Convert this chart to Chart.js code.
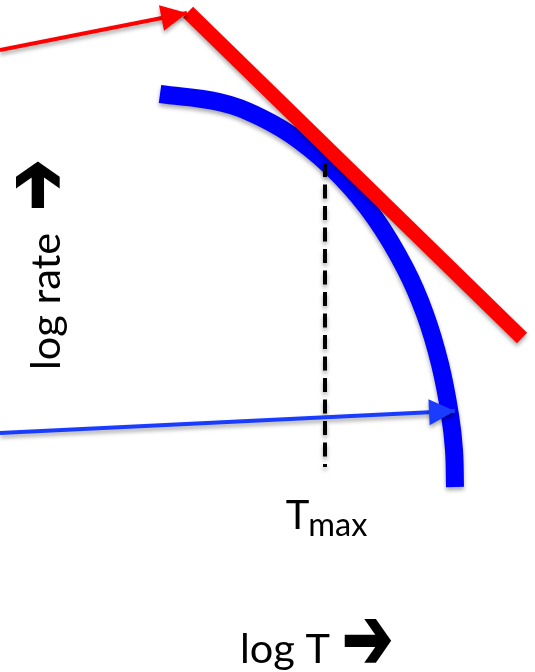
<!DOCTYPE html>
<html>
<head>
<meta charset="utf-8">
<script src="https://cdn.jsdelivr.net/npm/chart.js@4/dist/chart.umd.min.js"></script>
<style>
  html, body { margin: 0; padding: 0; background: #fff; }
  #wrap { width: 535px; height: 672px; }
</style>
</head>
<body>
<div id="wrap"><canvas id="c" width="535" height="672"></canvas></div>
<script>
// Rate curve: log rate against log T (arbitrary units)
const curveLogT    = [1.60, 2.19, 2.60, 3.00, 3.40, 3.75, 4.05, 4.25, 4.40, 4.50, 4.54, 4.55];
const curveLogRate = [5.78, 5.70, 5.55, 5.31, 4.96, 4.54, 4.04, 3.58, 3.08, 2.57, 2.22, 1.85];

// Straight line touching the curve
const tangentLogT    = [1.88, 5.22];
const tangentLogRate = [6.60, 3.34];

// Vertical marker at Tmax
const tmaxLogT    = [3.25, 3.25];
const tmaxLogRate = [5.09, 2.05];

// Pointer arrows (last point is the tip)
const redArrowLogT     = [0.00, 1.87];
const redArrowLogRate  = [6.22, 6.59];
const blueArrowLogT    = [0.00, 4.55];
const blueArrowLogRate = [2.39, 2.61];

// Texts
const xTitle = 'log T';
const yTitle = 'log rate';
const arrowGlyph = '\u2794';
const markerMain = 'T';
const markerSub = 'max';

const pts = (xs, ys) => xs.map((x, i) => ({ x, y: ys[i] }));

// Soft drop shadow under every mark, and arrowheads on flagged datasets
const shadowAndHeads = {
  id: 'shadowAndHeads',
  beforeDatasetDraw(chart) {
    const ctx = chart.ctx;
    ctx.save();
    ctx.shadowColor = 'rgba(0,0,0,0.35)';
    ctx.shadowBlur = 4;
    ctx.shadowOffsetX = 0;
    ctx.shadowOffsetY = 3;
  },
  afterDatasetDraw(chart, args) {
    const ctx = chart.ctx;
    const ds = chart.data.datasets[args.index];
    if (ds.arrowHead) {
      const el = args.meta.data;
      const a = el[el.length - 2], b = el[el.length - 1];
      const ang = Math.atan2(b.y - a.y, b.x - a.x);
      const len = ds.arrowHead.length, hw = ds.arrowHead.halfWidth;
      ctx.translate(b.x, b.y);
      ctx.rotate(ang);
      ctx.beginPath();
      ctx.moveTo(0, 0);
      ctx.lineTo(-len, -hw);
      ctx.lineTo(-len, hw);
      ctx.closePath();
      ctx.fillStyle = ds.borderColor;
      ctx.fill();
    }
    ctx.restore();
  }
};

// heavy arrow glyph, left edge at x, centred on yMid
function drawArrowGlyph(ctx, x, yMid) {
  ctx.save();
  ctx.translate(x, yMid);
  ctx.scale(1, 1.43);
  ctx.font = 'bold 61px "DejaVu Sans"';
  ctx.textBaseline = 'middle';
  ctx.textAlign = 'left';
  ctx.fillStyle = '#000';
  ctx.strokeStyle = '#000';
  ctx.lineWidth = 1.5;
  ctx.lineJoin = 'miter';
  ctx.fillText(arrowGlyph, 0, 0);
  ctx.strokeText(arrowGlyph, 0, 0);
  ctx.restore();
}

// Axis captions and the Tmax label
const captions = {
  id: 'captions',
  afterDraw(chart) {
    const ctx = chart.ctx;
    const xs = chart.scales.x;
    const markerX = xs.getPixelForValue(tmaxLogT[0]);
    ctx.save();
    ctx.fillStyle = '#000';
    ctx.textBaseline = 'alphabetic';
    ctx.textAlign = 'left';

    // vertical caption, reading upward
    ctx.save();
    ctx.translate(60, 370);
    ctx.rotate(-Math.PI / 2);
    ctx.font = '41.5px Lato';
    ctx.fillText(yTitle, 0, 0);
    const yw = ctx.measureText(yTitle).width;
    drawArrowGlyph(ctx, yw + 22, -18);
    ctx.restore();

    // horizontal caption
    ctx.font = '41.5px Lato';
    ctx.fillText(xTitle, 240, 663);
    const xw = ctx.measureText(xTitle).width;
    drawArrowGlyph(ctx, 240 + xw + 12, 645);

    // Tmax label
    ctx.textBaseline = 'alphabetic';
    ctx.font = '40px Lato';
    const tw = ctx.measureText(markerMain).width;
    ctx.font = '32.5px Lato';
    const sw = ctx.measureText(markerSub).width;
    const left = markerX - (tw + sw) / 2 + 2;
    ctx.font = '40px Lato';
    ctx.fillText(markerMain, left, 529);
    ctx.font = '32.5px Lato';
    ctx.fillText(markerSub, left + tw - 1, 536);
    ctx.restore();
  }
};

new Chart(document.getElementById('c'), {
  type: 'scatter',
  data: {
    datasets: [
      {
        data: pts(curveLogT, curveLogRate),
        borderColor: '#0000ff', borderWidth: 18, tension: 0.4, order: 5
      },
      {
        data: pts(tangentLogT, tangentLogRate),
        borderColor: '#ff0000', borderWidth: 14.5, order: 4
      },
      {
        data: pts(tmaxLogT, tmaxLogRate),
        borderColor: '#000000', borderWidth: 4, borderDash: [14, 7.5], order: 3
      },
      {
        data: pts(blueArrowLogT, blueArrowLogRate),
        borderColor: '#1a3cff', borderWidth: 4, order: 2,
        arrowHead: { length: 26, halfWidth: 13 }
      },
      {
        data: pts(redArrowLogT, redArrowLogRate),
        borderColor: '#ff0000', borderWidth: 4, order: 1,
        arrowHead: { length: 26, halfWidth: 13 }
      }
    ]
  },
  options: {
    responsive: false,
    animation: false,
    events: [],
    showLine: true,
    layout: { padding: 0 },
    elements: {
      point: { radius: 0, hoverRadius: 0 },
      line: { fill: false, borderCapStyle: 'butt', borderJoinStyle: 'round' }
    },
    plugins: { legend: { display: false }, tooltip: { enabled: false } },
    scales: {
      x: { type: 'linear', min: 0, max: 5.35, display: false },
      y: { type: 'linear', min: 0, max: 6.72, display: false }
    }
  },
  plugins: [shadowAndHeads, captions]
});
</script>
</body>
</html>
